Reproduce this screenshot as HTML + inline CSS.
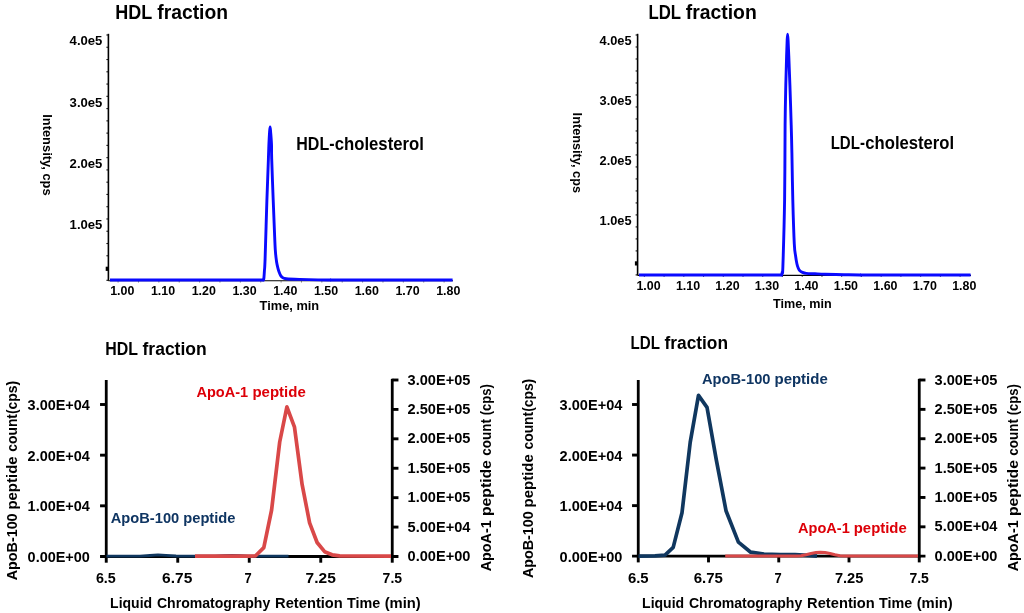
<!DOCTYPE html>
<html><head><meta charset="utf-8"><title>Lipoprotein fractions</title>
<style>
html,body{margin:0;padding:0;background:#fff;}
body{width:1024px;height:613px;overflow:hidden;}
svg{display:block;filter:blur(0.45px);}
svg text{font-family:"Liberation Sans",sans-serif;font-weight:bold;}
</style></head><body>
<svg width="1024" height="613" viewBox="0 0 1024 613">
<rect x="0" y="0" width="1024" height="613" fill="#ffffff"/>
<text x="115.25" y="18.75" font-size="19.3" fill="#000" textLength="37.0" lengthAdjust="spacingAndGlyphs">HDL</text>
<text x="157.25" y="18.75" font-size="19.3" fill="#000" textLength="70.75" lengthAdjust="spacingAndGlyphs">fraction</text>
<line x1="108.4" y1="33.8" x2="108.4" y2="280.8" stroke="#000" stroke-width="1.6" stroke-linecap="butt"/>
<line x1="108.4" y1="280.8" x2="453" y2="280.8" stroke="#000" stroke-width="1.1" stroke-linecap="butt"/>
<line x1="106.4" y1="35.0" x2="108.4" y2="35.0" stroke="#111" stroke-width="1.1" stroke-linecap="butt"/>
<line x1="106.4" y1="47.27" x2="108.4" y2="47.27" stroke="#111" stroke-width="1.1" stroke-linecap="butt"/>
<line x1="106.4" y1="59.53" x2="108.4" y2="59.53" stroke="#111" stroke-width="1.1" stroke-linecap="butt"/>
<line x1="106.4" y1="71.8" x2="108.4" y2="71.8" stroke="#111" stroke-width="1.1" stroke-linecap="butt"/>
<line x1="106.4" y1="84.06" x2="108.4" y2="84.06" stroke="#111" stroke-width="1.1" stroke-linecap="butt"/>
<line x1="106.4" y1="96.33" x2="108.4" y2="96.33" stroke="#111" stroke-width="1.1" stroke-linecap="butt"/>
<line x1="106.4" y1="108.59" x2="108.4" y2="108.59" stroke="#111" stroke-width="1.1" stroke-linecap="butt"/>
<line x1="106.4" y1="120.86" x2="108.4" y2="120.86" stroke="#111" stroke-width="1.1" stroke-linecap="butt"/>
<line x1="106.4" y1="133.12" x2="108.4" y2="133.12" stroke="#111" stroke-width="1.1" stroke-linecap="butt"/>
<line x1="106.4" y1="145.39" x2="108.4" y2="145.39" stroke="#111" stroke-width="1.1" stroke-linecap="butt"/>
<line x1="106.4" y1="157.65" x2="108.4" y2="157.65" stroke="#111" stroke-width="1.1" stroke-linecap="butt"/>
<line x1="106.4" y1="169.92" x2="108.4" y2="169.92" stroke="#111" stroke-width="1.1" stroke-linecap="butt"/>
<line x1="106.4" y1="182.18" x2="108.4" y2="182.18" stroke="#111" stroke-width="1.1" stroke-linecap="butt"/>
<line x1="106.4" y1="194.44" x2="108.4" y2="194.44" stroke="#111" stroke-width="1.1" stroke-linecap="butt"/>
<line x1="106.4" y1="206.71" x2="108.4" y2="206.71" stroke="#111" stroke-width="1.1" stroke-linecap="butt"/>
<line x1="106.4" y1="218.97" x2="108.4" y2="218.97" stroke="#111" stroke-width="1.1" stroke-linecap="butt"/>
<line x1="106.4" y1="231.24" x2="108.4" y2="231.24" stroke="#111" stroke-width="1.1" stroke-linecap="butt"/>
<line x1="106.4" y1="243.51" x2="108.4" y2="243.51" stroke="#111" stroke-width="1.1" stroke-linecap="butt"/>
<line x1="106.4" y1="255.77" x2="108.4" y2="255.77" stroke="#111" stroke-width="1.1" stroke-linecap="butt"/>
<line x1="106.4" y1="268.03" x2="108.4" y2="268.03" stroke="#111" stroke-width="1.1" stroke-linecap="butt"/>
<line x1="106.4" y1="280.3" x2="108.4" y2="280.3" stroke="#111" stroke-width="1.1" stroke-linecap="butt"/>
<line x1="105.7" y1="268.8" x2="108.4" y2="268.8" stroke="#000" stroke-width="4.2" stroke-linecap="butt"/>
<text x="69.6" y="45.35" font-size="12.9" fill="#000" textLength="32.8" lengthAdjust="spacingAndGlyphs">4.0e5</text>
<text x="69.6" y="106.55" font-size="12.9" fill="#000" textLength="32.8" lengthAdjust="spacingAndGlyphs">3.0e5</text>
<text x="69.6" y="167.75" font-size="12.9" fill="#000" textLength="32.8" lengthAdjust="spacingAndGlyphs">2.0e5</text>
<text x="69.6" y="228.95" font-size="12.9" fill="#000" textLength="32.8" lengthAdjust="spacingAndGlyphs">1.0e5</text>
<text x="110.2" y="295.0" font-size="12.2" fill="#000" textLength="24.2" lengthAdjust="spacingAndGlyphs">1.00</text>
<line x1="118.1" y1="281.3" x2="118.1" y2="282.4" stroke="#444" stroke-width="0.9" stroke-linecap="butt"/>
<line x1="138.47" y1="281.3" x2="138.47" y2="282.4" stroke="#444" stroke-width="0.9" stroke-linecap="butt"/>
<text x="150.95" y="295.0" font-size="12.2" fill="#000" textLength="24.2" lengthAdjust="spacingAndGlyphs">1.10</text>
<line x1="158.85" y1="281.3" x2="158.85" y2="282.4" stroke="#444" stroke-width="0.9" stroke-linecap="butt"/>
<line x1="179.22" y1="281.3" x2="179.22" y2="282.4" stroke="#444" stroke-width="0.9" stroke-linecap="butt"/>
<text x="191.7" y="295.0" font-size="12.2" fill="#000" textLength="24.2" lengthAdjust="spacingAndGlyphs">1.20</text>
<line x1="199.6" y1="281.3" x2="199.6" y2="282.4" stroke="#444" stroke-width="0.9" stroke-linecap="butt"/>
<line x1="219.97" y1="281.3" x2="219.97" y2="282.4" stroke="#444" stroke-width="0.9" stroke-linecap="butt"/>
<text x="232.45" y="295.0" font-size="12.2" fill="#000" textLength="24.2" lengthAdjust="spacingAndGlyphs">1.30</text>
<line x1="240.35" y1="281.3" x2="240.35" y2="282.4" stroke="#444" stroke-width="0.9" stroke-linecap="butt"/>
<line x1="260.73" y1="281.3" x2="260.73" y2="282.4" stroke="#444" stroke-width="0.9" stroke-linecap="butt"/>
<text x="273.2" y="295.0" font-size="12.2" fill="#000" textLength="24.2" lengthAdjust="spacingAndGlyphs">1.40</text>
<line x1="281.1" y1="281.3" x2="281.1" y2="282.4" stroke="#444" stroke-width="0.9" stroke-linecap="butt"/>
<line x1="301.48" y1="281.3" x2="301.48" y2="282.4" stroke="#444" stroke-width="0.9" stroke-linecap="butt"/>
<text x="313.95" y="295.0" font-size="12.2" fill="#000" textLength="24.2" lengthAdjust="spacingAndGlyphs">1.50</text>
<line x1="321.85" y1="281.3" x2="321.85" y2="282.4" stroke="#444" stroke-width="0.9" stroke-linecap="butt"/>
<line x1="342.23" y1="281.3" x2="342.23" y2="282.4" stroke="#444" stroke-width="0.9" stroke-linecap="butt"/>
<text x="354.7" y="295.0" font-size="12.2" fill="#000" textLength="24.2" lengthAdjust="spacingAndGlyphs">1.60</text>
<line x1="362.6" y1="281.3" x2="362.6" y2="282.4" stroke="#444" stroke-width="0.9" stroke-linecap="butt"/>
<line x1="382.98" y1="281.3" x2="382.98" y2="282.4" stroke="#444" stroke-width="0.9" stroke-linecap="butt"/>
<text x="395.45" y="295.0" font-size="12.2" fill="#000" textLength="24.2" lengthAdjust="spacingAndGlyphs">1.70</text>
<line x1="403.35" y1="281.3" x2="403.35" y2="282.4" stroke="#444" stroke-width="0.9" stroke-linecap="butt"/>
<line x1="423.73" y1="281.3" x2="423.73" y2="282.4" stroke="#444" stroke-width="0.9" stroke-linecap="butt"/>
<text x="436.2" y="295.0" font-size="12.2" fill="#000" textLength="24.2" lengthAdjust="spacingAndGlyphs">1.80</text>
<line x1="444.1" y1="281.3" x2="444.1" y2="282.4" stroke="#444" stroke-width="0.9" stroke-linecap="butt"/>
<text x="259.6" y="310.0" font-size="12.2" fill="#000" textLength="59.6" lengthAdjust="spacingAndGlyphs">Time, min</text>
<text x="42.6" y="114.2" font-size="13.1" fill="#000" textLength="81.4" lengthAdjust="spacingAndGlyphs" transform="rotate(90 42.6 114.2)">Intensity, cps</text>
<text x="296.3" y="149.7" font-size="18.2" fill="#000" textLength="38.2" lengthAdjust="spacingAndGlyphs">HDL-</text>
<text x="334.7" y="149.7" font-size="18.2" fill="#000" textLength="89.2" lengthAdjust="spacingAndGlyphs">cholesterol</text>
<polyline points="110.00,280.00 263.50,280.00" fill="none" stroke="#0a0aff" stroke-width="2.9" stroke-linejoin="round" stroke-linecap="butt"/>
<path d="M263.50,280.00 C263.57,279.58 263.80,279.00 263.95,277.50 C264.10,276.00 264.21,274.13 264.40,271.00 C264.59,267.87 264.68,270.53 265.10,258.70 C265.52,246.87 266.35,216.62 266.90,200.00 C267.45,183.38 268.07,168.27 268.40,159.00 C268.73,149.73 268.70,148.98 268.90,144.40 C269.10,139.82 269.40,134.42 269.60,131.50 C269.80,128.58 269.93,126.90 270.10,126.90 C270.27,126.90 270.37,128.58 270.60,131.50 C270.83,134.42 271.32,139.82 271.50,144.40 C271.68,148.98 271.42,149.73 271.70,159.00 C271.98,168.27 272.75,188.17 273.20,200.00 C273.65,211.83 274.05,221.67 274.40,230.00 C274.75,238.33 274.93,244.67 275.30,250.00 C275.67,255.33 276.13,258.87 276.60,262.00 C277.07,265.13 277.65,267.03 278.10,268.80 C278.55,270.57 278.87,271.47 279.30,272.60 C279.73,273.73 280.15,274.77 280.70,275.60 C281.25,276.43 281.67,277.08 282.60,277.60 C283.53,278.12 283.40,278.40 286.30,278.70 C289.20,279.00 294.72,279.20 300.00,279.40 C305.28,279.60 313.00,279.80 318.00,279.90 C323.00,280.00 328.00,279.98 330.00,280.00" fill="none" stroke="#0a0aff" stroke-width="2.9" stroke-linejoin="round" stroke-linecap="round"/>
<polyline points="330.00,280.00 452.60,280.00" fill="none" stroke="#0a0aff" stroke-width="2.9" stroke-linejoin="round" stroke-linecap="butt"/>
<text x="648.5" y="18.75" font-size="19.3" fill="#000" textLength="32.6" lengthAdjust="spacingAndGlyphs">LDL</text>
<text x="685.75" y="18.75" font-size="19.3" fill="#000" textLength="71.05" lengthAdjust="spacingAndGlyphs">fraction</text>
<line x1="637.6" y1="33.8" x2="637.6" y2="275.4" stroke="#000" stroke-width="1.6" stroke-linecap="butt"/>
<line x1="637.6" y1="275.4" x2="971" y2="275.4" stroke="#000" stroke-width="1.1" stroke-linecap="butt"/>
<line x1="635.6" y1="35.0" x2="637.6" y2="35.0" stroke="#111" stroke-width="1.1" stroke-linecap="butt"/>
<line x1="635.6" y1="46.99" x2="637.6" y2="46.99" stroke="#111" stroke-width="1.1" stroke-linecap="butt"/>
<line x1="635.6" y1="58.99" x2="637.6" y2="58.99" stroke="#111" stroke-width="1.1" stroke-linecap="butt"/>
<line x1="635.6" y1="70.98" x2="637.6" y2="70.98" stroke="#111" stroke-width="1.1" stroke-linecap="butt"/>
<line x1="635.6" y1="82.98" x2="637.6" y2="82.98" stroke="#111" stroke-width="1.1" stroke-linecap="butt"/>
<line x1="635.6" y1="94.97" x2="637.6" y2="94.97" stroke="#111" stroke-width="1.1" stroke-linecap="butt"/>
<line x1="635.6" y1="106.97" x2="637.6" y2="106.97" stroke="#111" stroke-width="1.1" stroke-linecap="butt"/>
<line x1="635.6" y1="118.96" x2="637.6" y2="118.96" stroke="#111" stroke-width="1.1" stroke-linecap="butt"/>
<line x1="635.6" y1="130.96" x2="637.6" y2="130.96" stroke="#111" stroke-width="1.1" stroke-linecap="butt"/>
<line x1="635.6" y1="142.95" x2="637.6" y2="142.95" stroke="#111" stroke-width="1.1" stroke-linecap="butt"/>
<line x1="635.6" y1="154.95" x2="637.6" y2="154.95" stroke="#111" stroke-width="1.1" stroke-linecap="butt"/>
<line x1="635.6" y1="166.94" x2="637.6" y2="166.94" stroke="#111" stroke-width="1.1" stroke-linecap="butt"/>
<line x1="635.6" y1="178.94" x2="637.6" y2="178.94" stroke="#111" stroke-width="1.1" stroke-linecap="butt"/>
<line x1="635.6" y1="190.94" x2="637.6" y2="190.94" stroke="#111" stroke-width="1.1" stroke-linecap="butt"/>
<line x1="635.6" y1="202.93" x2="637.6" y2="202.93" stroke="#111" stroke-width="1.1" stroke-linecap="butt"/>
<line x1="635.6" y1="214.92" x2="637.6" y2="214.92" stroke="#111" stroke-width="1.1" stroke-linecap="butt"/>
<line x1="635.6" y1="226.92" x2="637.6" y2="226.92" stroke="#111" stroke-width="1.1" stroke-linecap="butt"/>
<line x1="635.6" y1="238.91" x2="637.6" y2="238.91" stroke="#111" stroke-width="1.1" stroke-linecap="butt"/>
<line x1="635.6" y1="250.91" x2="637.6" y2="250.91" stroke="#111" stroke-width="1.1" stroke-linecap="butt"/>
<line x1="635.6" y1="262.9" x2="637.6" y2="262.9" stroke="#111" stroke-width="1.1" stroke-linecap="butt"/>
<line x1="635.6" y1="274.9" x2="637.6" y2="274.9" stroke="#111" stroke-width="1.1" stroke-linecap="butt"/>
<line x1="634.9" y1="263.4" x2="637.6" y2="263.4" stroke="#000" stroke-width="4.2" stroke-linecap="butt"/>
<text x="599.6" y="45.35" font-size="12.9" fill="#000" textLength="32.0" lengthAdjust="spacingAndGlyphs">4.0e5</text>
<text x="599.6" y="105.1" font-size="12.9" fill="#000" textLength="32.0" lengthAdjust="spacingAndGlyphs">3.0e5</text>
<text x="599.6" y="164.85" font-size="12.9" fill="#000" textLength="32.0" lengthAdjust="spacingAndGlyphs">2.0e5</text>
<text x="599.6" y="224.6" font-size="12.9" fill="#000" textLength="32.0" lengthAdjust="spacingAndGlyphs">1.0e5</text>
<text x="636.45" y="289.7" font-size="12.2" fill="#000" textLength="24.2" lengthAdjust="spacingAndGlyphs">1.00</text>
<line x1="644.35" y1="275.9" x2="644.35" y2="277.0" stroke="#444" stroke-width="0.9" stroke-linecap="butt"/>
<line x1="664.09" y1="275.9" x2="664.09" y2="277.0" stroke="#444" stroke-width="0.9" stroke-linecap="butt"/>
<text x="675.92" y="289.7" font-size="12.2" fill="#000" textLength="24.2" lengthAdjust="spacingAndGlyphs">1.10</text>
<line x1="683.82" y1="275.9" x2="683.82" y2="277.0" stroke="#444" stroke-width="0.9" stroke-linecap="butt"/>
<line x1="703.56" y1="275.9" x2="703.56" y2="277.0" stroke="#444" stroke-width="0.9" stroke-linecap="butt"/>
<text x="715.39" y="289.7" font-size="12.2" fill="#000" textLength="24.2" lengthAdjust="spacingAndGlyphs">1.20</text>
<line x1="723.29" y1="275.9" x2="723.29" y2="277.0" stroke="#444" stroke-width="0.9" stroke-linecap="butt"/>
<line x1="743.03" y1="275.9" x2="743.03" y2="277.0" stroke="#444" stroke-width="0.9" stroke-linecap="butt"/>
<text x="754.86" y="289.7" font-size="12.2" fill="#000" textLength="24.2" lengthAdjust="spacingAndGlyphs">1.30</text>
<line x1="762.76" y1="275.9" x2="762.76" y2="277.0" stroke="#444" stroke-width="0.9" stroke-linecap="butt"/>
<line x1="782.5" y1="275.9" x2="782.5" y2="277.0" stroke="#444" stroke-width="0.9" stroke-linecap="butt"/>
<text x="794.33" y="289.7" font-size="12.2" fill="#000" textLength="24.2" lengthAdjust="spacingAndGlyphs">1.40</text>
<line x1="802.23" y1="275.9" x2="802.23" y2="277.0" stroke="#444" stroke-width="0.9" stroke-linecap="butt"/>
<line x1="821.97" y1="275.9" x2="821.97" y2="277.0" stroke="#444" stroke-width="0.9" stroke-linecap="butt"/>
<text x="833.8" y="289.7" font-size="12.2" fill="#000" textLength="24.2" lengthAdjust="spacingAndGlyphs">1.50</text>
<line x1="841.7" y1="275.9" x2="841.7" y2="277.0" stroke="#444" stroke-width="0.9" stroke-linecap="butt"/>
<line x1="861.44" y1="275.9" x2="861.44" y2="277.0" stroke="#444" stroke-width="0.9" stroke-linecap="butt"/>
<text x="873.27" y="289.7" font-size="12.2" fill="#000" textLength="24.2" lengthAdjust="spacingAndGlyphs">1.60</text>
<line x1="881.17" y1="275.9" x2="881.17" y2="277.0" stroke="#444" stroke-width="0.9" stroke-linecap="butt"/>
<line x1="900.9" y1="275.9" x2="900.9" y2="277.0" stroke="#444" stroke-width="0.9" stroke-linecap="butt"/>
<text x="912.74" y="289.7" font-size="12.2" fill="#000" textLength="24.2" lengthAdjust="spacingAndGlyphs">1.70</text>
<line x1="920.64" y1="275.9" x2="920.64" y2="277.0" stroke="#444" stroke-width="0.9" stroke-linecap="butt"/>
<line x1="940.38" y1="275.9" x2="940.38" y2="277.0" stroke="#444" stroke-width="0.9" stroke-linecap="butt"/>
<text x="952.21" y="289.7" font-size="12.2" fill="#000" textLength="24.2" lengthAdjust="spacingAndGlyphs">1.80</text>
<line x1="960.11" y1="275.9" x2="960.11" y2="277.0" stroke="#444" stroke-width="0.9" stroke-linecap="butt"/>
<text x="773.1" y="308.3" font-size="12.2" fill="#000" textLength="58.6" lengthAdjust="spacingAndGlyphs">Time, min</text>
<text x="572.5" y="112.6" font-size="13.1" fill="#000" textLength="80.4" lengthAdjust="spacingAndGlyphs" transform="rotate(90 572.5 112.6)">Intensity, cps</text>
<text x="830.7" y="149.3" font-size="18.2" fill="#000" textLength="34.2" lengthAdjust="spacingAndGlyphs">LDL-</text>
<text x="865.3" y="149.3" font-size="18.2" fill="#000" textLength="88.8" lengthAdjust="spacingAndGlyphs">cholesterol</text>
<polyline points="639.00,275.00 781.70,275.00" fill="none" stroke="#0a0aff" stroke-width="2.9" stroke-linejoin="round" stroke-linecap="butt"/>
<path d="M781.70,275.00 C781.78,274.58 782.00,274.00 782.20,272.50 C782.40,271.00 782.50,278.08 782.90,266.00 C783.30,253.92 784.23,223.50 784.60,200.00 C784.97,176.50 784.90,144.17 785.10,125.00 C785.30,105.83 785.55,96.50 785.80,85.00 C786.05,73.50 786.38,63.42 786.60,56.00 C786.83,48.58 786.98,44.13 787.15,40.50 C787.32,36.87 787.44,34.20 787.60,34.20 C787.76,34.20 787.90,36.87 788.10,40.50 C788.30,44.13 788.50,48.58 788.80,56.00 C789.10,63.42 789.50,73.50 789.90,85.00 C790.30,96.50 790.87,113.67 791.20,125.00 C791.53,136.33 791.63,140.50 791.90,153.00 C792.17,165.50 792.40,184.83 792.80,200.00 C793.20,215.17 793.83,234.67 794.30,244.00 C794.77,253.33 795.17,252.70 795.60,256.00 C796.03,259.30 796.47,261.80 796.90,263.80 C797.33,265.80 797.75,266.90 798.20,268.00 C798.65,269.10 798.88,269.67 799.60,270.40 C800.32,271.13 801.38,271.90 802.50,272.40 C803.62,272.90 804.22,273.17 806.30,273.40 C808.38,273.63 811.88,273.67 815.00,273.80 C818.12,273.93 820.17,274.05 825.00,274.20 C829.83,274.35 838.17,274.57 844.00,274.70 C849.83,274.83 857.33,274.95 860.00,275.00" fill="none" stroke="#0a0aff" stroke-width="2.9" stroke-linejoin="round" stroke-linecap="round"/>
<polyline points="860.00,275.00 970.60,275.00" fill="none" stroke="#0a0aff" stroke-width="2.9" stroke-linejoin="round" stroke-linecap="butt"/>
<text x="105.25" y="355.0" font-size="17.6" fill="#000" textLength="32.75" lengthAdjust="spacingAndGlyphs">HDL</text>
<text x="142.5" y="355.0" font-size="17.6" fill="#000" textLength="64.2" lengthAdjust="spacingAndGlyphs">fraction</text>
<line x1="106.25" y1="380.0" x2="106.25" y2="557.9" stroke="#000" stroke-width="2.8" stroke-linecap="butt"/>
<line x1="392.25" y1="378.8" x2="392.25" y2="557.9" stroke="#000" stroke-width="2.8" stroke-linecap="butt"/>
<line x1="100.05" y1="556.5" x2="398.45" y2="556.5" stroke="#000" stroke-width="2.8" stroke-linecap="butt"/>
<line x1="100.05" y1="404.5" x2="106.25" y2="404.5" stroke="#000" stroke-width="2.9" stroke-linecap="butt"/>
<text x="27.6" y="410.0" font-size="15.5" fill="#000" textLength="62.3" lengthAdjust="spacingAndGlyphs">3.00E+04</text>
<line x1="100.05" y1="455.17" x2="106.25" y2="455.17" stroke="#000" stroke-width="2.9" stroke-linecap="butt"/>
<text x="27.6" y="460.67" font-size="15.5" fill="#000" textLength="62.3" lengthAdjust="spacingAndGlyphs">2.00E+04</text>
<line x1="100.05" y1="505.83" x2="106.25" y2="505.83" stroke="#000" stroke-width="2.9" stroke-linecap="butt"/>
<text x="27.6" y="511.33" font-size="15.5" fill="#000" textLength="62.3" lengthAdjust="spacingAndGlyphs">1.00E+04</text>
<text x="27.6" y="562.0" font-size="15.5" fill="#000" textLength="62.3" lengthAdjust="spacingAndGlyphs">0.00E+00</text>
<line x1="392.25" y1="380.0" x2="398.45" y2="380.0" stroke="#000" stroke-width="2.9" stroke-linecap="butt"/>
<text x="407.6" y="384.5" font-size="15.5" fill="#000" textLength="62.8" lengthAdjust="spacingAndGlyphs">3.00E+05</text>
<line x1="392.25" y1="409.42" x2="398.45" y2="409.42" stroke="#000" stroke-width="2.9" stroke-linecap="butt"/>
<text x="407.6" y="413.92" font-size="15.5" fill="#000" textLength="62.8" lengthAdjust="spacingAndGlyphs">2.50E+05</text>
<line x1="392.25" y1="438.83" x2="398.45" y2="438.83" stroke="#000" stroke-width="2.9" stroke-linecap="butt"/>
<text x="407.6" y="443.33" font-size="15.5" fill="#000" textLength="62.8" lengthAdjust="spacingAndGlyphs">2.00E+05</text>
<line x1="392.25" y1="468.25" x2="398.45" y2="468.25" stroke="#000" stroke-width="2.9" stroke-linecap="butt"/>
<text x="407.6" y="472.75" font-size="15.5" fill="#000" textLength="62.8" lengthAdjust="spacingAndGlyphs">1.50E+05</text>
<line x1="392.25" y1="497.67" x2="398.45" y2="497.67" stroke="#000" stroke-width="2.9" stroke-linecap="butt"/>
<text x="407.6" y="502.17" font-size="15.5" fill="#000" textLength="62.8" lengthAdjust="spacingAndGlyphs">1.00E+05</text>
<line x1="392.25" y1="527.08" x2="398.45" y2="527.08" stroke="#000" stroke-width="2.9" stroke-linecap="butt"/>
<text x="407.6" y="531.58" font-size="15.5" fill="#000" textLength="62.8" lengthAdjust="spacingAndGlyphs">5.00E+04</text>
<text x="407.6" y="561.0" font-size="15.5" fill="#000" textLength="62.8" lengthAdjust="spacingAndGlyphs">0.00E+00</text>
<line x1="106.25" y1="556.5" x2="106.25" y2="562.7" stroke="#000" stroke-width="2.9" stroke-linecap="butt"/>
<line x1="177.75" y1="556.5" x2="177.75" y2="562.7" stroke="#000" stroke-width="2.9" stroke-linecap="butt"/>
<line x1="249.25" y1="556.5" x2="249.25" y2="562.7" stroke="#000" stroke-width="2.9" stroke-linecap="butt"/>
<line x1="320.75" y1="556.5" x2="320.75" y2="562.7" stroke="#000" stroke-width="2.9" stroke-linecap="butt"/>
<line x1="392.25" y1="556.5" x2="392.25" y2="562.7" stroke="#000" stroke-width="2.9" stroke-linecap="butt"/>
<text x="95.9" y="583.0" font-size="15.5" fill="#000" textLength="19.9" lengthAdjust="spacingAndGlyphs">6.5</text>
<text x="162.1" y="583.0" font-size="15.5" fill="#000" textLength="30.2" lengthAdjust="spacingAndGlyphs">6.75</text>
<text x="244.6" y="583.0" font-size="15.5" fill="#000" textLength="7.2" lengthAdjust="spacingAndGlyphs">7</text>
<text x="305.6" y="583.0" font-size="15.5" fill="#000" textLength="30.2" lengthAdjust="spacingAndGlyphs">7.25</text>
<text x="382.6" y="583.0" font-size="15.5" fill="#000" textLength="19.5" lengthAdjust="spacingAndGlyphs">7.5</text>
<text x="110.1" y="607.6" font-size="15.5" fill="#000" textLength="42.0" lengthAdjust="spacingAndGlyphs">Liquid</text>
<text x="156.9" y="607.6" font-size="15.5" fill="#000" textLength="113.4" lengthAdjust="spacingAndGlyphs">Chromatography</text>
<text x="275.1" y="607.6" font-size="15.5" fill="#000" textLength="67.7" lengthAdjust="spacingAndGlyphs">Retention</text>
<text x="347.0" y="607.6" font-size="15.5" fill="#000" textLength="33.2" lengthAdjust="spacingAndGlyphs">Time</text>
<text x="384.7" y="607.6" font-size="15.5" fill="#000" textLength="36.1" lengthAdjust="spacingAndGlyphs">(min)</text>
<text x="17.0" y="580.3" font-size="15.5" fill="#000" textLength="66.9" lengthAdjust="spacingAndGlyphs" transform="rotate(-90 17.0 580.3)">ApoB-100</text>
<text x="17.0" y="509.6" font-size="15.5" fill="#000" textLength="53.2" lengthAdjust="spacingAndGlyphs" transform="rotate(-90 17.0 509.6)">peptide</text>
<text x="17.0" y="451.7" font-size="15.5" fill="#000" textLength="70.7" lengthAdjust="spacingAndGlyphs" transform="rotate(-90 17.0 451.7)">count(cps)</text>
<text x="490.9" y="571.3" font-size="15.5" fill="#000" textLength="51.0" lengthAdjust="spacingAndGlyphs" transform="rotate(-90 490.9 571.3)">ApoA-1</text>
<text x="490.9" y="516.1" font-size="15.5" fill="#000" textLength="56.0" lengthAdjust="spacingAndGlyphs" transform="rotate(-90 490.9 516.1)">peptide</text>
<text x="490.9" y="455.7" font-size="15.5" fill="#000" textLength="36.6" lengthAdjust="spacingAndGlyphs" transform="rotate(-90 490.9 455.7)">count</text>
<text x="490.9" y="415.2" font-size="15.5" fill="#000" textLength="31.0" lengthAdjust="spacingAndGlyphs" transform="rotate(-90 490.9 415.2)">(cps)</text>
<polyline points="106.50,556.20 140.00,556.20 150.00,555.50 158.00,554.80 166.00,555.30 176.00,556.00 215.00,556.20 224.00,555.70 232.00,555.30 240.00,555.70 248.00,556.20 288.50,556.20" fill="none" stroke="#10375f" stroke-width="2.8" stroke-linejoin="round" stroke-linecap="butt"/>
<polyline points="195.00,556.20 248.00,556.20 255.60,555.80 263.80,547.60 271.60,510.00 279.70,442.00 286.90,406.90 294.50,427.20 302.10,484.40 309.60,522.80 317.10,542.50 324.60,551.70 332.10,554.80 339.60,555.90 391.00,556.20" fill="none" stroke="#d94848" stroke-width="3.7" stroke-linejoin="round" stroke-linecap="butt"/>
<text x="196.5" y="397.0" font-size="15.5" fill="#dd0008" textLength="51.6" lengthAdjust="spacingAndGlyphs">ApoA-1</text>
<text x="252.4" y="397.0" font-size="15.5" fill="#dd0008" textLength="53.35" lengthAdjust="spacingAndGlyphs">peptide</text>
<text x="110.75" y="522.6" font-size="15.5" fill="#0f3562" textLength="68.5" lengthAdjust="spacingAndGlyphs">ApoB-100</text>
<text x="183.25" y="522.6" font-size="15.5" fill="#0f3562" textLength="52.25" lengthAdjust="spacingAndGlyphs">peptide</text>
<text x="630.5" y="348.75" font-size="17.6" fill="#000" textLength="29.4" lengthAdjust="spacingAndGlyphs">LDL</text>
<text x="664.5" y="348.75" font-size="17.6" fill="#000" textLength="63.5" lengthAdjust="spacingAndGlyphs">fraction</text>
<line x1="638.25" y1="380.0" x2="638.25" y2="557.6" stroke="#000" stroke-width="2.8" stroke-linecap="butt"/>
<line x1="919.25" y1="378.8" x2="919.25" y2="557.6" stroke="#000" stroke-width="2.8" stroke-linecap="butt"/>
<line x1="632.05" y1="556.2" x2="925.45" y2="556.2" stroke="#000" stroke-width="2.8" stroke-linecap="butt"/>
<line x1="632.05" y1="404.5" x2="638.25" y2="404.5" stroke="#000" stroke-width="2.9" stroke-linecap="butt"/>
<text x="559.6" y="410.0" font-size="15.5" fill="#000" textLength="62.8" lengthAdjust="spacingAndGlyphs">3.00E+04</text>
<line x1="632.05" y1="455.07" x2="638.25" y2="455.07" stroke="#000" stroke-width="2.9" stroke-linecap="butt"/>
<text x="559.6" y="460.57" font-size="15.5" fill="#000" textLength="62.8" lengthAdjust="spacingAndGlyphs">2.00E+04</text>
<line x1="632.05" y1="505.63" x2="638.25" y2="505.63" stroke="#000" stroke-width="2.9" stroke-linecap="butt"/>
<text x="559.6" y="511.13" font-size="15.5" fill="#000" textLength="62.8" lengthAdjust="spacingAndGlyphs">1.00E+04</text>
<text x="559.6" y="561.7" font-size="15.5" fill="#000" textLength="62.8" lengthAdjust="spacingAndGlyphs">0.00E+00</text>
<line x1="919.25" y1="380.0" x2="925.45" y2="380.0" stroke="#000" stroke-width="2.9" stroke-linecap="butt"/>
<text x="934.6" y="384.5" font-size="15.5" fill="#000" textLength="62.8" lengthAdjust="spacingAndGlyphs">3.00E+05</text>
<line x1="919.25" y1="409.37" x2="925.45" y2="409.37" stroke="#000" stroke-width="2.9" stroke-linecap="butt"/>
<text x="934.6" y="413.87" font-size="15.5" fill="#000" textLength="62.8" lengthAdjust="spacingAndGlyphs">2.50E+05</text>
<line x1="919.25" y1="438.73" x2="925.45" y2="438.73" stroke="#000" stroke-width="2.9" stroke-linecap="butt"/>
<text x="934.6" y="443.23" font-size="15.5" fill="#000" textLength="62.8" lengthAdjust="spacingAndGlyphs">2.00E+05</text>
<line x1="919.25" y1="468.1" x2="925.45" y2="468.1" stroke="#000" stroke-width="2.9" stroke-linecap="butt"/>
<text x="934.6" y="472.6" font-size="15.5" fill="#000" textLength="62.8" lengthAdjust="spacingAndGlyphs">1.50E+05</text>
<line x1="919.25" y1="497.47" x2="925.45" y2="497.47" stroke="#000" stroke-width="2.9" stroke-linecap="butt"/>
<text x="934.6" y="501.97" font-size="15.5" fill="#000" textLength="62.8" lengthAdjust="spacingAndGlyphs">1.00E+05</text>
<line x1="919.25" y1="526.83" x2="925.45" y2="526.83" stroke="#000" stroke-width="2.9" stroke-linecap="butt"/>
<text x="934.6" y="531.33" font-size="15.5" fill="#000" textLength="62.8" lengthAdjust="spacingAndGlyphs">5.00E+04</text>
<text x="934.6" y="560.7" font-size="15.5" fill="#000" textLength="62.8" lengthAdjust="spacingAndGlyphs">0.00E+00</text>
<line x1="638.25" y1="556.2" x2="638.25" y2="562.4" stroke="#000" stroke-width="2.9" stroke-linecap="butt"/>
<line x1="708.5" y1="556.2" x2="708.5" y2="562.4" stroke="#000" stroke-width="2.9" stroke-linecap="butt"/>
<line x1="778.75" y1="556.2" x2="778.75" y2="562.4" stroke="#000" stroke-width="2.9" stroke-linecap="butt"/>
<line x1="849.0" y1="556.2" x2="849.0" y2="562.4" stroke="#000" stroke-width="2.9" stroke-linecap="butt"/>
<line x1="919.25" y1="556.2" x2="919.25" y2="562.4" stroke="#000" stroke-width="2.9" stroke-linecap="butt"/>
<text x="627.9" y="583.0" font-size="15.5" fill="#000" textLength="20.7" lengthAdjust="spacingAndGlyphs">6.5</text>
<text x="693.7" y="583.0" font-size="15.5" fill="#000" textLength="29.2" lengthAdjust="spacingAndGlyphs">6.75</text>
<text x="774.6" y="583.0" font-size="15.5" fill="#000" textLength="7.2" lengthAdjust="spacingAndGlyphs">7</text>
<text x="834.9" y="583.0" font-size="15.5" fill="#000" textLength="28.5" lengthAdjust="spacingAndGlyphs">7.25</text>
<text x="909.4" y="583.0" font-size="15.5" fill="#000" textLength="19.5" lengthAdjust="spacingAndGlyphs">7.5</text>
<text x="642.1" y="607.6" font-size="15.5" fill="#000" textLength="42.0" lengthAdjust="spacingAndGlyphs">Liquid</text>
<text x="688.9" y="607.6" font-size="15.5" fill="#000" textLength="113.4" lengthAdjust="spacingAndGlyphs">Chromatography</text>
<text x="807.1" y="607.6" font-size="15.5" fill="#000" textLength="67.7" lengthAdjust="spacingAndGlyphs">Retention</text>
<text x="879.0" y="607.6" font-size="15.5" fill="#000" textLength="33.2" lengthAdjust="spacingAndGlyphs">Time</text>
<text x="916.7" y="607.6" font-size="15.5" fill="#000" textLength="36.1" lengthAdjust="spacingAndGlyphs">(min)</text>
<text x="532.6" y="578.1" font-size="15.5" fill="#000" textLength="66.9" lengthAdjust="spacingAndGlyphs" transform="rotate(-90 532.6 578.1)">ApoB-100</text>
<text x="532.6" y="507.4" font-size="15.5" fill="#000" textLength="53.2" lengthAdjust="spacingAndGlyphs" transform="rotate(-90 532.6 507.4)">peptide</text>
<text x="532.6" y="449.5" font-size="15.5" fill="#000" textLength="70.7" lengthAdjust="spacingAndGlyphs" transform="rotate(-90 532.6 449.5)">count(cps)</text>
<text x="1018.0" y="571.3" font-size="15.5" fill="#000" textLength="51.0" lengthAdjust="spacingAndGlyphs" transform="rotate(-90 1018.0 571.3)">ApoA-1</text>
<text x="1018.0" y="516.1" font-size="15.5" fill="#000" textLength="56.0" lengthAdjust="spacingAndGlyphs" transform="rotate(-90 1018.0 516.1)">peptide</text>
<text x="1018.0" y="455.7" font-size="15.5" fill="#000" textLength="36.6" lengthAdjust="spacingAndGlyphs" transform="rotate(-90 1018.0 455.7)">count</text>
<text x="1018.0" y="415.2" font-size="15.5" fill="#000" textLength="31.0" lengthAdjust="spacingAndGlyphs" transform="rotate(-90 1018.0 415.2)">(cps)</text>
<polyline points="638.50,556.10 655.00,555.90 665.00,555.10 673.20,547.40 682.00,512.70 690.20,442.40 698.50,395.40 707.00,407.30 716.30,459.90 726.00,510.70 738.40,542.10 750.70,552.20 764.00,554.00 780.00,554.50 795.00,554.70 808.00,555.30 817.00,556.10" fill="none" stroke="#10375f" stroke-width="3.7" stroke-linejoin="round" stroke-linecap="butt"/>
<polyline points="725.20,556.10 796.00,556.10 801.00,555.70 806.00,554.80 811.00,553.50 816.00,552.50 820.40,552.20 825.00,552.50 830.00,553.50 835.00,554.80 840.00,555.70 845.00,556.10 918.00,556.10" fill="none" stroke="#d94848" stroke-width="3.0" stroke-linejoin="round" stroke-linecap="butt"/>
<text x="702.0" y="383.8" font-size="15.5" fill="#0f3562" textLength="68.5" lengthAdjust="spacingAndGlyphs">ApoB-100</text>
<text x="774.5" y="383.8" font-size="15.5" fill="#0f3562" textLength="53.25" lengthAdjust="spacingAndGlyphs">peptide</text>
<text x="798.0" y="532.6" font-size="15.5" fill="#dd0008" textLength="51.75" lengthAdjust="spacingAndGlyphs">ApoA-1</text>
<text x="853.75" y="532.6" font-size="15.5" fill="#dd0008" textLength="53.0" lengthAdjust="spacingAndGlyphs">peptide</text>
</svg>
</body></html>
